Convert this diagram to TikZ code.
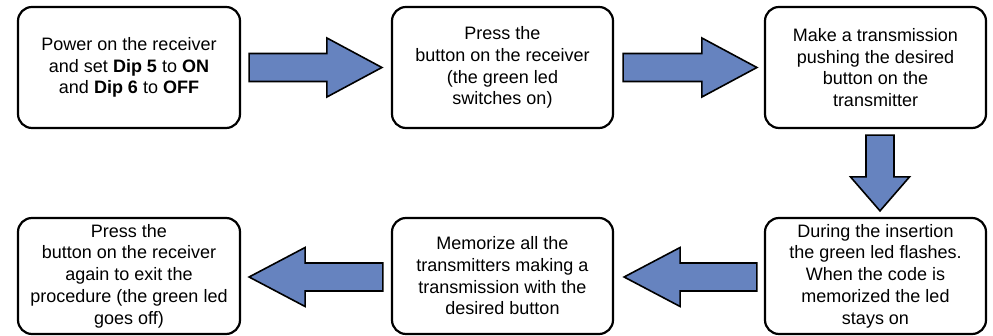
\documentclass[tikz,border=0pt]{standalone}
\usepackage{fontspec}
\setmainfont{Liberation Sans}
\usetikzlibrary{calc}
\definecolor{arrowblue}{RGB}{102,131,191}
\tikzset{
  box/.style={draw, line width=2.2pt, rounded corners=14pt, minimum width=222pt,
    align=center, font=\fontsize{18}{21.7}\selectfont, inner sep=0pt, fill=white},
  toprow/.style={minimum height=121pt},
  botrow/.style={minimum height=116pt},
  barrow/.style={draw, line width=1.6pt, fill=arrowblue, line join=miter},
}
\newcommand\harrowx[3]{%
  \draw[barrow] let \p1=(#1), \p2=(#2), \n1={sign(\x2-\x1)}, \n2={\x2-\n1*#3} in
    (\x1,\y1+14pt) -- (\n2,\y1+14pt) -- (\n2,\y1+29.5pt) -- (\x2,\y1)
    -- (\n2,\y1-29.5pt) -- (\n2,\y1-14pt) -- (\x1,\y1-14pt) -- cycle;}
\newcommand\varrowx[3]{%
  \draw[barrow] let \p1=(#1), \p2=(#2), \n1={sign(\y2-\y1)}, \n2={\y2-\n1*#3} in
    (\x1+14pt,\y1) -- (\x1+14pt,\n2) -- (\x1+29.5pt,\n2) -- (\x1,\y2)
    -- (\x1-29.5pt,\n2) -- (\x1-14pt,\n2) -- (\x1-14pt,\y1) -- cycle;}
\begin{document}
\begin{tikzpicture}[x=1pt,y=1pt]
\useasboundingbox (0,0) rectangle (993,336);
\node[box,toprow] (b1) at (129,268.5) {Power on the receiver\\and set \textbf{Dip 5} to \textbf{ON}\\and \textbf{Dip 6} to \textbf{OFF}};
\node[box,toprow,minimum width=221pt] (b2) at (502.5,268.5) {Press the\\button on the receiver\\(the green led\\switches on)};
\node[box,toprow,minimum width=221pt] (b3) at (875.5,268.5) {Make a transmission\\pushing the desired\\button on the\\transmitter};
\node[box,botrow] (b4) at (129,60) {Press the\\button on the receiver\\again to exit the\\procedure (the green led\\goes off)};
\node[box,botrow,minimum width=221pt] (b5) at (502.5,60) {Memorize all the\\transmitters making a\\transmission with the\\desired button};
\node[box,botrow,minimum width=221pt] (b6) at (875.5,60) {During the insertion\\the green led flashes.\\When the code is\\memorized the led\\stays on};
\harrowx{[xshift=8pt]b1.east}{[xshift=-9pt]b2.west}{55pt}
\harrowx{[xshift=9pt]b2.east}{[xshift=-7pt]b3.west}{55pt}
\varrowx{[xshift=4.5pt,yshift=-6pt]b3.south}{[xshift=4.5pt,yshift=6pt]b6.north}{34pt}
\harrowx{[xshift=-7pt,yshift=-1pt]b6.west}{[xshift=10pt,yshift=-1pt]b5.east}{56pt}
\harrowx{[xshift=-8pt,yshift=-1pt]b5.west}{[xshift=8pt,yshift=-1pt]b4.east}{56pt}
\end{tikzpicture}
\end{document}
